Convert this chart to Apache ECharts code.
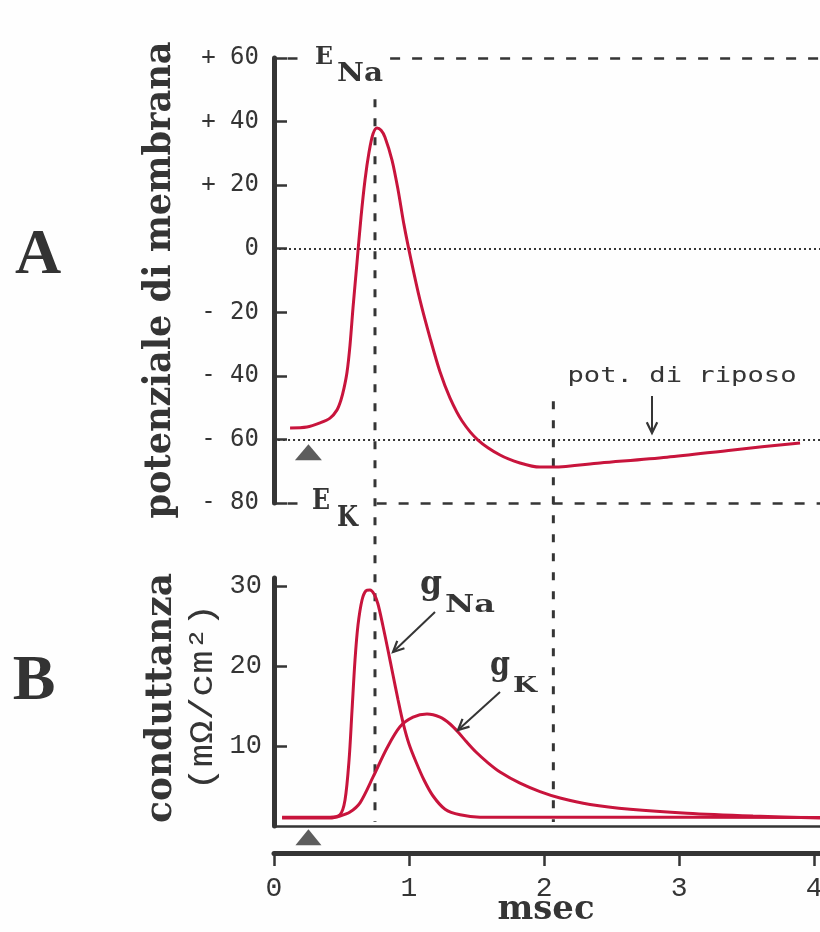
<!DOCTYPE html>
<html><head><meta charset="utf-8">
<script src="https://cdn.jsdelivr.net/npm/echarts@6/dist/echarts.min.js"></script>
<style>html,body{margin:0;padding:0;background:#fefefe}#c{width:820px;height:932px}</style>
</head><body><div id="c"></div>
<script>
// ---------------- data ----------------
// A: membrane potential (mV) vs time (msec)
const apTime    = [0.119, 0.244, 0.341, 0.415, 0.467, 0.496, 0.519, 0.541, 0.563, 0.585, 0.615, 0.644, 0.674, 0.704, 0.733, 0.763, 0.793, 0.822, 0.874, 0.919, 0.963, 1.015, 1.081, 1.156, 1.230, 1.304, 1.393, 1.511, 1.674, 1.822, 1.970, 2.067, 2.415, 2.911, 3.400, 3.896];
const apVoltage = [-56.4, -56.1, -54.8, -53.3, -50.7, -47.6, -43.8, -38.8, -30.3, -18.7, -4.2, 9.7, 21.6, 30.4, 36.1, 38.0, 37.3, 35.1, 27.9, 18.5, 7.5, -3.5, -16.1, -28.1, -38.8, -47.0, -54.2, -60.2, -64.9, -67.4, -68.7, -68.7, -67.4, -65.6, -63.3, -61.1];
// B: conductances (mΩ/cm²) vs time (msec)
const gNaTime  = [0.06, 0.415, 0.489, 0.526, 0.556, 0.578, 0.600, 0.622, 0.652, 0.681, 0.711, 0.741, 0.770, 0.807, 0.844, 0.881, 0.919, 0.956, 1.000, 1.052, 1.111, 1.178, 1.267, 1.378, 1.526, 2.500, 4.044];
const gNaValue = [1.1, 1.1, 1.4, 3.25, 8.25, 14.5, 20.75, 25.1, 28.25, 29.4, 29.5, 29.0, 27.75, 25.0, 22.0, 18.9, 15.75, 12.9, 10.25, 8.0, 5.75, 3.75, 2.1, 1.4, 1.1, 1.1, 1.05];
const gKTime   = [0.06, 0.415, 0.489, 0.563, 0.637, 0.733, 0.837, 0.933, 1.030, 1.133, 1.230, 1.304, 1.363, 1.422, 1.496, 1.585, 1.674, 1.822, 1.970, 2.119, 2.341, 2.637, 3.059, 3.548, 4.044];
const gKValue  = [1.0, 1.0, 1.25, 1.75, 2.9, 6.1, 9.75, 12.4, 13.6, 14.0, 13.6, 12.75, 11.75, 10.6, 9.25, 7.9, 6.75, 5.35, 4.3, 3.5, 2.7, 2.1, 1.6, 1.25, 1.0];
// reference levels and ticks
const potTicks  = [60, 40, 20, 0, -20, -40, -60, -80];
const condTicks = [10, 20, 30];
const timeTicks = [0, 1, 2, 3, 4];
const E_Na = 60, E_K = -80, V_rest = -60, V_zero = 0;
const stimTime = 0.255;      // stimulus (triangles)
const peakTime = 0.748;      // vertical dashed line through the spike
const laterTime = 2.069;     // second vertical dashed line

// ---------------- layout / style ----------------
const X_MAX = 4.044;
const INK = '#353535', RED = '#c8143c';
const zip = (a, b) => a.map((v, i) => [v, b[i]]);
const fmtPot = v => v > 0 ? '+ ' + v : (v < 0 ? '- ' + (-v) : '0');

const chart = echarts.init(document.getElementById('c'), null, {renderer: 'canvas'});

const dotted = {type: [2, 3], width: 2, color: INK};
const dashed = {type: [10, 12], width: 2.5, color: INK};

const option = {
  backgroundColor: '#fefefe',
  animation: false,
  grid: [
    {left: 274, top: 58, width: 546, height: 445, outerBoundsMode: 'none'},
    {left: 274, top: 578, width: 546, height: 248, outerBoundsMode: 'none'}
  ],
  xAxis: [
    {gridIndex: 0, type: 'value', min: 0, max: X_MAX, show: false},
    {gridIndex: 1, type: 'value', min: 0, max: X_MAX, position: 'bottom',
     axisLine: {show: true, onZero: false, lineStyle: {color: INK, width: 2.5}},
     axisTick: {show: false}, axisLabel: {show: false}, splitLine: {show: false}},
    {gridIndex: 1, type: 'value', min: 0, max: X_MAX, position: 'bottom', offset: 27,
     axisLine: {show: true, onZero: false, lineStyle: {color: INK, width: 5}},
     axisTick: {show: true, length: 13, customValues: timeTicks, lineStyle: {color: INK, width: 2.5}},
     axisLabel: {customValues: timeTicks, margin: 22, fontFamily: 'Liberation Mono', fontSize: 28, color: INK},
     splitLine: {show: false}}
  ],
  yAxis: [
    {gridIndex: 0, type: 'value', min: -80, max: 60, interval: 20,
     axisLine: {show: true, onZero: false, lineStyle: {color: INK, width: 5}},
     axisTick: {show: true, inside: true, length: 13, lineStyle: {color: INK, width: 2.5}},
     axisLabel: {formatter: fmtPot, margin: 15, fontFamily: 'DejaVu Sans Mono', fontSize: 24, color: INK},
     splitLine: {show: false}},
    {gridIndex: 1, type: 'value', min: 0, max: 31,
     axisLine: {show: true, onZero: false, lineStyle: {color: INK, width: 5}},
     axisTick: {show: true, inside: true, length: 13, customValues: condTicks, lineStyle: {color: INK, width: 2.5}},
     axisLabel: {customValues: condTicks, margin: 12, fontFamily: 'Liberation Mono', fontSize: 27, color: INK},
     splitLine: {show: false}}
  ],
  series: [
    {type: 'line', xAxisIndex: 0, yAxisIndex: 0, data: zip(apTime, apVoltage),
     smooth: 0.3, showSymbol: false, lineStyle: {color: RED, width: 3}, z: 5,
     markLine: {silent: true, symbol: ['none', 'none'], label: {show: false}, animation: false,
       data: [
         [{coord: [0, V_zero], lineStyle: dotted}, {coord: [X_MAX, V_zero]}],
         [{coord: [0.03, V_rest], lineStyle: dotted}, {coord: [X_MAX, V_rest]}],
         [{coord: [0.1, E_Na], lineStyle: dashed}, {coord: [0.25, E_Na]}],
         [{coord: [0.86, E_Na], lineStyle: dashed}, {coord: [X_MAX, E_Na]}],
         [{coord: [0.1, E_K], lineStyle: dashed}, {coord: [0.22, E_K]}],
         [{coord: [0.76, E_K], lineStyle: dashed}, {coord: [X_MAX, E_K]}]
       ]}},
    {type: 'line', xAxisIndex: 1, yAxisIndex: 1, data: zip(gNaTime, gNaValue),
     smooth: 0.3, showSymbol: false, lineStyle: {color: RED, width: 3}, z: 5},
    {type: 'line', xAxisIndex: 1, yAxisIndex: 1, data: zip(gKTime, gKValue),
     smooth: 0.3, showSymbol: false, lineStyle: {color: RED, width: 3}, z: 5},
    {type: 'scatter', xAxisIndex: 0, yAxisIndex: 0, data: [[stimTime, -64]], clip: false,
     symbol: 'triangle', symbolSize: [27, 16], itemStyle: {color: INK}, silent: true},
    {type: 'scatter', xAxisIndex: 1, yAxisIndex: 1, data: [[stimTime, -1.4]], clip: false,
     symbol: 'triangle', symbolSize: [26, 16], itemStyle: {color: INK}, silent: true}
  ]
};
chart.setOption(option);

// ---------------- annotations ----------------
const mctx = document.createElement('canvas').getContext('2d');
function txt(text, x, y, o) {
  const weight = o.weight || 'normal';
  const fam = o.family || 'DejaVu Serif';
  mctx.font = weight + ' ' + o.size + 'px ' + fam;
  const w = mctx.measureText(text).width;
  const sx = o.width ? o.width / w : 1;
  return {type: 'text', x: x, y: y, rotation: o.rot || 0, scaleX: sx, scaleY: 1, z: 20, silent: true,
    style: {text: text, fill: o.color || INK, fontSize: o.size, fontWeight: weight, fontFamily: fam,
            align: o.align || 'left', verticalAlign: o.va || 'middle'}};
}
function arrow(x1, y1, x2, y2) {
  const a = Math.atan2(y2 - y1, x2 - x1), L = 12, s = 0.45;
  const p1 = [x2 - L * Math.cos(a - s), y2 - L * Math.sin(a - s)];
  const p2 = [x2 - L * Math.cos(a + s), y2 - L * Math.sin(a + s)];
  return [
    {type: 'line', shape: {x1, y1, x2, y2}, style: {stroke: INK, lineWidth: 2}, z: 20, silent: true},
    {type: 'polyline', shape: {points: [p1, [x2, y2], p2]}, style: {stroke: INK, lineWidth: 2.2, fill: null}, z: 20, silent: true}
  ];
}
const px = v => chart.convertToPixel({xAxisIndex: 0}, v);
const pyA = v => chart.convertToPixel({yAxisIndex: 0}, v);
const pyB = v => chart.convertToPixel({yAxisIndex: 1}, v);
const vdash = {stroke: INK, lineWidth: 3, lineDash: [8, 11]};

const R = Math.PI / 2;
const graphics = [
  {type: 'line', shape: {x1: px(peakTime), y1: pyA(47), x2: px(peakTime), y2: pyB(0.5)}, style: vdash, z: 3, silent: true},
  {type: 'line', shape: {x1: px(laterTime), y1: pyA(-48), x2: px(laterTime), y2: pyB(0.5)}, style: vdash, z: 3, silent: true},
  txt('A', 38, 256, {size: 64, weight: 'bold', family: 'Liberation Serif', align: 'center', color: '#333'}),
  txt('B', 34, 682, {size: 64, weight: 'bold', family: 'Liberation Serif', align: 'center', color: '#333'}),
  txt('potenziale di membrana', 160, 280, {size: 38, weight: 'bold', width: 477, rot: R, align: 'center'}),
  txt('conduttanza', 161, 698, {size: 37, weight: 'bold', width: 250, rot: R, align: 'center'}),
  txt('(mΩ/cm²)', 203, 697, {size: 34, family: 'Liberation Mono', width: 187, rot: R, align: 'center'}),
  txt('E', 315, 57, {size: 25, weight: 'bold', width: 18}),
  txt('Na', 337, 74, {size: 26, weight: 'bold', width: 46}),
  txt('E', 312, 502, {size: 28, weight: 'bold', width: 18}),
  txt('K', 337, 519, {size: 28, weight: 'bold', width: 21}),
  txt('g', 420, 585, {size: 33, weight: 'bold', width: 22}),
  txt('Na', 445, 605, {size: 25, weight: 'bold', width: 50}),
  txt('g', 490, 666, {size: 34, weight: 'bold', width: 20}),
  txt('K', 513, 686, {size: 23, weight: 'bold', width: 24}),
  txt('pot. di riposo', 682, 376, {size: 22, family: 'DejaVu Sans Mono', width: 229, align: 'center'}),
  txt('msec', 546, 910, {size: 33, weight: 'bold', width: 97, align: 'center'})
].concat(arrow(435, 612, 393, 652), arrow(500, 692, 458, 730), arrow(652, 396, 652, 433));

chart.setOption({graphic: graphics});
</script>
</body></html>
